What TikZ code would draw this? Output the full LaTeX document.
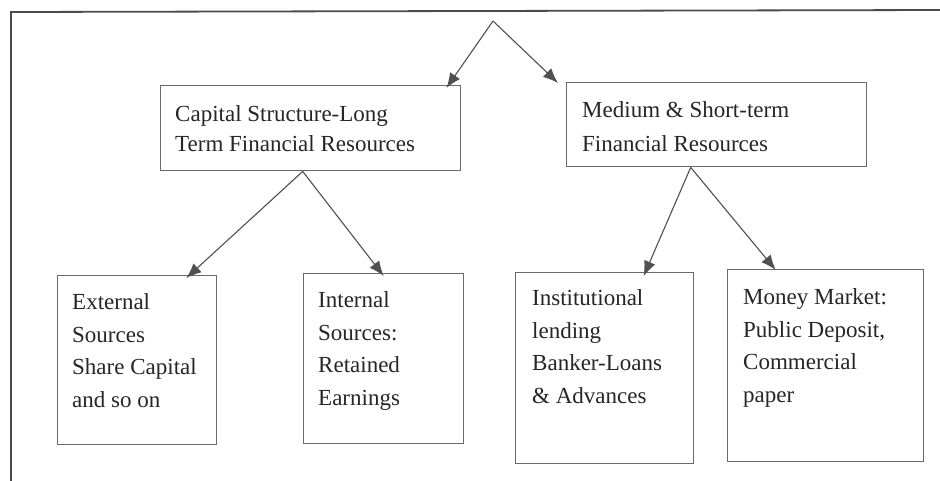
\documentclass[tikz,border=0pt]{standalone}
\usepackage{fontspec}
\setmainfont{Liberation Serif}
\usetikzlibrary{arrows.meta}
\definecolor{framegray}{HTML}{4A4A4A}
\definecolor{boxgray}{HTML}{6A6A6A}
\definecolor{arrowgray}{HTML}{505050}
\definecolor{inkcol}{HTML}{262626}
\tikzset{
  box/.style={draw=boxgray, line width=1.4pt, rectangle, inner sep=0pt, anchor=north west},
  % multi-line text is placed by the baseline of its last line
  txt/.style={text=inkcol, align=left, anchor=base west, inner sep=0pt,
              font=\fontsize{23}{32.5}\selectfont},
  toptxt/.style={txt, font=\fontsize{23}{30}\selectfont},
  link/.style={draw=arrowgray, line width=1.1pt, -{Latex[length=15pt,width=12pt]}},
  frame/.style={draw=framegray, line width=1.8pt}
}
\begin{document}
\begin{tikzpicture}[x=1pt,y=-1pt]
  \useasboundingbox (0,0) rectangle (940,480);
  \fill[white] (0,0) rectangle (940,480);

  % outer frame (open at the right and bottom)
  \draw[frame] (11,482) -- (11,12) -- (942,10);

  % top level split point
  \coordinate (top) at (493,21);

  % second level boxes
  \node[box, minimum width=300pt, minimum height=85pt] (a) at (160,85) {};
  \node[toptxt] (at) at (175,151) {Capital Structure-Long\\Term Financial Resources};

  \node[box, minimum width=300pt, minimum height=84pt] (b) at (566,82) {};
  \node[toptxt, font=\fontsize{23}{33.5}\selectfont] (bt) at (582,151) {Medium \& Short-term\\Financial Resources};

  % third level boxes
  \node[box, minimum width=159pt, minimum height=169pt] (c) at (57,275) {};
  \node[txt] (ct) at (72,407) {External\\Sources\\Share Capital\\and so on};

  \node[box, minimum width=160pt, minimum height=170pt] (d) at (303,273) {};
  \node[txt] (dt) at (318,405) {Internal\\Sources:\\Retained\\Earnings};

  \node[box, minimum width=178pt, minimum height=191pt] (e) at (515,272) {};
  \node[txt] (et) at (532,403) {Institutional\\lending\\Banker-Loans\\\& Advances};

  \node[box, minimum width=196pt, minimum height=192pt] (f) at (727,269) {};
  \node[txt] (ft) at (743,402) {Money Market:\\Public Deposit,\\Commercial\\paper};

  % connectors
  \draw[link] (top) -- ([xshift=-15pt,yshift=-3pt]a.north east);
  \draw[link] (top) -- ([xshift=-8pt,yshift=-1pt]b.north west);

  \draw[link] ([xshift=-8pt]a.south) -- ([xshift=-31pt,yshift=-3pt]c.north east);
  \draw[link] ([xshift=-8pt]a.south) -- ([yshift=-3pt]d.north);

  \draw[link] ([xshift=-26pt]b.south) -- ([xshift=39pt,yshift=-4pt]e.north);
  \draw[link] ([xshift=-26pt]b.south) -- ([xshift=-50pt,yshift=-1pt]f.north);
\end{tikzpicture}
\end{document}
